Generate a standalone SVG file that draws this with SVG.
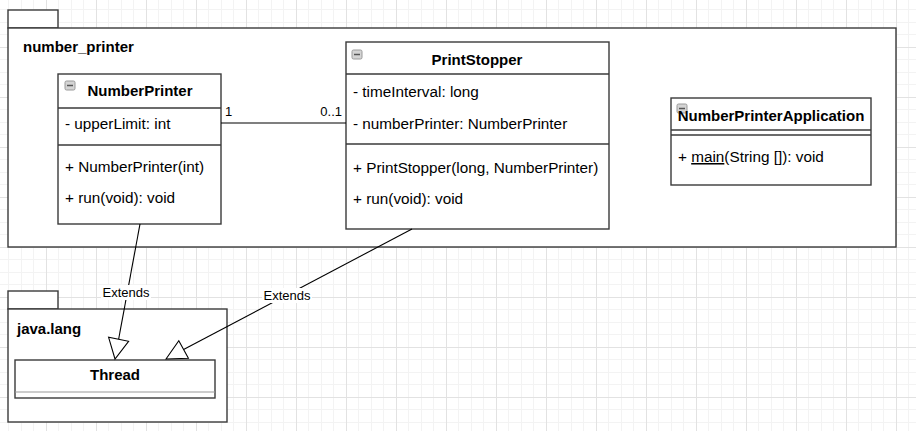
<svg xmlns="http://www.w3.org/2000/svg" width="916" height="431" viewBox="0 0 916 431">
  <defs>
    <pattern id="grid" patternUnits="userSpaceOnUse" x="46" y="47" width="50" height="50">
      <rect x="12" y="0" width="1" height="50" fill="#f3f3f3"/>
      <rect x="25" y="0" width="1" height="50" fill="#f3f3f3"/>
      <rect x="37" y="0" width="1" height="50" fill="#f3f3f3"/>
      <rect x="0" y="12" width="50" height="1" fill="#f3f3f3"/>
      <rect x="0" y="25" width="50" height="1" fill="#f3f3f3"/>
      <rect x="0" y="37" width="50" height="1" fill="#f3f3f3"/>
      <rect x="0" y="0" width="1" height="50" fill="#e2e2e2"/>
      <rect x="0" y="0" width="50" height="1" fill="#e2e2e2"/>
    </pattern>
    <g id="icon">
      <rect x="0" y="0" width="10" height="9" rx="1.5" fill="#d4d4d4" stroke="#9a9a9a" stroke-width="1"/>
      <line x1="2" y1="4.5" x2="8" y2="4.5" stroke="#555" stroke-width="1.5"/>
    </g>
  </defs>
  <style>
    .box { fill: #ffffff; stroke: #3a3a3a; stroke-width: 1.4; }
    .div { stroke: #3a3a3a; stroke-width: 1.4; }
    .title { font-family: "Liberation Sans", Arial, sans-serif; font-size: 15px; font-weight: bold; fill: #000; }
    .mem { font-family: "Liberation Sans", Arial, sans-serif; font-size: 15.3px; fill: #000; }
    .lbl { font-family: "Liberation Sans", Arial, sans-serif; font-size: 13px; fill: #000; }
    .edge { stroke: #000; stroke-width: 1.1; fill: none; }
    .tri { fill: #fff; stroke: #000; stroke-width: 1.1; }
  </style>
  <rect width="916" height="431" fill="#ffffff"/>
  <rect width="916" height="431" fill="url(#grid)"/>

  <g id="pkg-number_printer">
    <rect class="box" x="8" y="10" width="50" height="18"/>
    <rect class="box" x="8" y="28" width="888" height="219"/>
    <text class="title" x="23" y="52">number_printer</text>
  </g>

  <g id="pkg-java_lang">
    <rect class="box" x="8" y="291" width="50" height="18"/>
    <rect class="box" x="8" y="309" width="219" height="113"/>
    <text class="title" x="17" y="334">java.lang</text>
  </g>

  <g id="NumberPrinter">
    <rect class="box" x="58" y="74" width="163" height="150"/>
    <line class="div" x1="58" y1="108" x2="221" y2="108"/>
    <line class="div" x1="58" y1="145" x2="221" y2="145"/>
    <use href="#icon" x="65" y="81"/>
    <text class="title" x="140" y="96" text-anchor="middle">NumberPrinter</text>
    <text class="mem" x="65" y="129">- upperLimit: int</text>
    <text class="mem" x="65" y="172">+ NumberPrinter(int)</text>
    <text class="mem" x="65" y="203">+ run(void): void</text>
  </g>

  <g id="PrintStopper">
    <rect class="box" x="346" y="42" width="263" height="187"/>
    <line class="div" x1="346" y1="74" x2="609" y2="74"/>
    <line class="div" x1="346" y1="144" x2="609" y2="144"/>
    <use href="#icon" x="352" y="50"/>
    <text class="title" x="477" y="65" text-anchor="middle">PrintStopper</text>
    <text class="mem" x="353" y="97">- timeInterval: long</text>
    <text class="mem" x="353" y="129">- numberPrinter: NumberPrinter</text>
    <text class="mem" x="353" y="173">+ PrintStopper(long, NumberPrinter)</text>
    <text class="mem" x="353" y="204">+ run(void): void</text>
  </g>

  <g id="NumberPrinterApplication">
    <rect class="box" x="671" y="98" width="200" height="87"/>
    <line class="div" x1="671" y1="130" x2="871" y2="130"/>
    <line class="div" x1="671" y1="135" x2="871" y2="135"/>
    <use href="#icon" x="677" y="104"/>
    <text class="title" x="771" y="121" text-anchor="middle">NumberPrinterApplication</text>
    <text class="mem" x="678" y="162">+ <tspan text-decoration="underline">main</tspan>(String []): void</text>
  </g>

  <g id="Thread">
    <rect class="box" x="15" y="360" width="200" height="38"/>
    <line x1="15" y1="392" x2="215" y2="392" stroke="#999" stroke-width="1"/>
    <text class="title" x="115" y="380" text-anchor="middle">Thread</text>
  </g>

  <g id="connectors">
    <line class="edge" x1="221" y1="123" x2="346" y2="123"/>
    <text class="lbl" x="225" y="116">1</text>
    <text class="lbl" x="342" y="116" text-anchor="end">0..1</text>

    <line class="edge" x1="140" y1="224" x2="118.6" y2="339.3"/>
    <polygon class="tri" points="115,359 108.6,337.3 128.6,341.3"/>
    <rect x="101" y="285" width="50" height="15" fill="#fff"/>
    <text class="lbl" x="126" y="297" text-anchor="middle">Extends</text>

    <line class="edge" x1="412" y1="229" x2="183.6" y2="349.5"/>
    <polygon class="tri" points="166,359 178.8,340.7 188.4,358.3"/>
    <rect x="262" y="288" width="50" height="15" fill="#fff"/>
    <text class="lbl" x="287" y="300" text-anchor="middle">Extends</text>
  </g>
</svg>
